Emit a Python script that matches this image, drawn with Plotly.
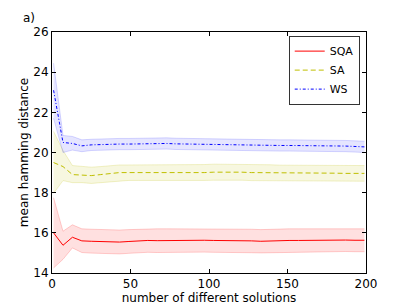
import plotly.graph_objects as go

x = [1 + 6 * i for i in range(34)]

sqa_mean = [16.0, 15.38, 15.78, 15.6, 15.58, 15.57, 15.56, 15.54, 15.57, 15.6, 15.62, 15.61,
            15.62, 15.62, 15.62, 15.63, 15.63, 15.62, 15.62, 15.63, 15.6, 15.6, 15.58, 15.6,
            15.6, 15.62, 15.62, 15.63, 15.64, 15.64, 15.64, 15.64, 15.63, 15.63]
sqa_up = [17.75, 16.08, 16.4, 16.2, 16.18, 16.16, 16.15, 16.14, 16.16, 16.18, 16.2, 16.2,
          16.2, 16.2, 16.2, 16.2, 16.21, 16.2, 16.2, 16.2, 16.18, 16.18, 16.16, 16.18,
          16.18, 16.2, 16.2, 16.2, 16.22, 16.22, 16.22, 16.2, 16.2, 16.2]
sqa_lo = [14.25, 14.68, 15.25, 15.02, 14.99, 14.98, 14.97, 14.95, 14.98, 15.01, 15.03, 15.02,
          15.03, 15.03, 15.03, 15.04, 15.04, 15.03, 15.03, 15.04, 15.02, 15.01, 15.0, 15.01,
          15.02, 15.04, 15.04, 15.05, 15.06, 15.06, 15.06, 15.07, 15.06, 15.06]

sa_mean = [19.5, 19.3, 18.9, 18.88, 18.85, 18.9, 18.95, 19.0, 19.0, 19.0, 19.0, 19.0,
           19.0, 18.98, 18.98, 18.97, 19.0, 19.02, 19.03, 19.03, 19.02, 19.0, 19.0, 19.0,
           18.98, 18.98, 18.98, 18.97, 18.97, 18.97, 18.97, 18.96, 18.96, 18.96]
sa_up = [21.05, 20.1, 19.35, 19.3, 19.27, 19.3, 19.34, 19.38, 19.38, 19.38, 19.38, 19.38,
         19.38, 19.37, 19.37, 19.37, 19.4, 19.42, 19.42, 19.42, 19.41, 19.39, 19.39, 19.39,
         19.37, 19.37, 19.37, 19.36, 19.36, 19.36, 19.36, 19.35, 19.35, 19.35]
sa_lo = [17.97, 18.6, 18.5, 18.5, 18.46, 18.5, 18.56, 18.6, 18.61, 18.61, 18.61, 18.61,
         18.61, 18.6, 18.59, 18.58, 18.61, 18.62, 18.63, 18.63, 18.62, 18.6, 18.6, 18.6,
         18.59, 18.59, 18.59, 18.58, 18.58, 18.58, 18.58, 18.57, 18.57, 18.57]

ws_mean = [23.1, 20.5, 20.45, 20.33, 20.38, 20.4, 20.4, 20.42, 20.42, 20.43, 20.45, 20.45,
           20.45, 20.43, 20.42, 20.43, 20.42, 20.4, 20.4, 20.38, 20.37, 20.37, 20.37, 20.35,
           20.35, 20.35, 20.35, 20.34, 20.33, 20.32, 20.32, 20.32, 20.3, 20.28]
ws_up = [24.45, 20.85, 20.8, 20.63, 20.66, 20.68, 20.68, 20.7, 20.7, 20.71, 20.73, 20.73,
         20.73, 20.71, 20.7, 20.71, 20.7, 20.68, 20.68, 20.66, 20.65, 20.65, 20.65, 20.63,
         20.63, 20.63, 20.63, 20.62, 20.61, 20.6, 20.6, 20.6, 20.58, 20.56]
ws_lo = [21.7, 20.0, 20.12, 20.04, 20.1, 20.12, 20.12, 20.14, 20.14, 20.15, 20.17, 20.17,
         20.17, 20.15, 20.14, 20.15, 20.14, 20.12, 20.12, 20.1, 20.09, 20.09, 20.09, 20.07,
         20.07, 20.07, 20.07, 20.06, 20.05, 20.04, 20.04, 20.04, 20.02, 20.0]

series = [
    ("SQA", sqa_mean, sqa_up, sqa_lo, "#ff0000", "rgba(255,0,0,0.12)", "rgba(255,0,0,0.18)", "solid"),
    ("SA", sa_mean, sa_up, sa_lo, "#bfbf00", "rgba(191,191,0,0.12)", "rgba(191,191,0,0.2)", "5px,3px"),
    ("WS", ws_mean, ws_up, ws_lo, "#0000ff", "rgba(0,0,255,0.1)", "rgba(0,0,255,0.15)", "3px,2px,1px,2px"),
]

fig = go.Figure()
for name, m, up, lo, col, fill, edge, dash in series:
    fig.add_trace(go.Scatter(x=x, y=up, mode="lines", line=dict(color=edge, width=1),
                             showlegend=False, hoverinfo="skip"))
    fig.add_trace(go.Scatter(x=x, y=lo, mode="lines", line=dict(color=edge, width=1),
                             fill="tonexty", fillcolor=fill, showlegend=False, hoverinfo="skip"))
for name, m, up, lo, col, fill, edge, dash in series:
    fig.add_trace(go.Scatter(x=x, y=m, mode="lines", name=name,
                             line=dict(color=col, width=1, dash=dash)))

axis_common = dict(showline=True, linecolor="black", linewidth=1, mirror="ticks",
                   ticks="inside", ticklen=4, tickcolor="black", showgrid=False,
                   zeroline=False, automargin=False,
                   tickfont=dict(family="DejaVu Sans", size=12, color="black"))

fig.update_layout(
    width=407, height=305,
    margin=dict(l=52, r=41, t=32, b=32),
    paper_bgcolor="white", plot_bgcolor="white",
    font=dict(family="DejaVu Sans", size=11, color="black"),
    xaxis=dict(range=[0, 200], tickvals=[0, 50, 100, 150, 200],
               title=dict(text="number of different solutions", standoff=0,
                          font=dict(size=12)), **axis_common),
    yaxis=dict(range=[14, 26], tickvals=[14, 16, 18, 20, 22, 24, 26],
               title=dict(text="mean hamming distance", standoff=2,
                          font=dict(size=12)), **axis_common),
    legend=dict(x=0.98, y=0.985, xanchor="right", yanchor="top",
                bordercolor="#333333", borderwidth=1, bgcolor="white",
                font=dict(size=11), tracegroupgap=0, traceorder="normal",
                itemwidth=30),
    annotations=[dict(text="a)", x=0.0, y=1.0, xref="paper", yref="paper", showarrow=False,
                      xanchor="left", yanchor="bottom", xshift=-31, yshift=5,
                      font=dict(size=12))],
)

fig.write_html("out.html", config={"displayModeBar": False},
               post_script="document.body.style.margin='0';document.body.style.overflow='hidden';")
